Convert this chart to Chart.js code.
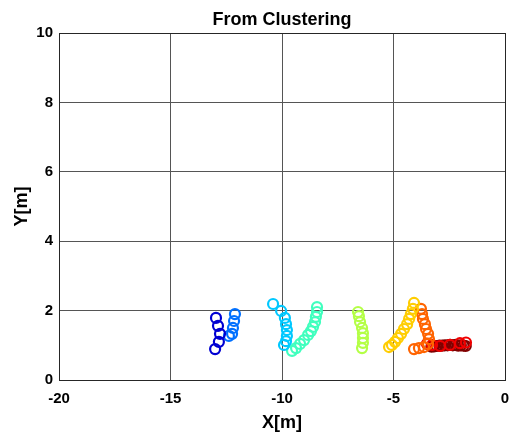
<!DOCTYPE html>
<html>
<head>
<meta charset="utf-8">
<script src="https://cdn.jsdelivr.net/npm/chart.js@4"></script>
<style>
  html, body { margin: 0; padding: 0; background: #ffffff; }
  canvas { display: block; }
</style>
</head>
<body>
<canvas id="chart" width="509" height="436"></canvas>
<script>
// Cluster tracks (X, Y in metres), one pair of arrays per cluster
const cluster1X = [-12.96, -12.87, -12.78, -12.83, -13.00];
const cluster1Y = [1.79, 1.56, 1.33, 1.10, 0.89];

const cluster2X = [-12.11, -12.15, -12.20, -12.24, -12.38];
const cluster2Y = [1.90, 1.70, 1.50, 1.33, 1.27];

const cluster3X = [-10.40, -10.04, -9.87, -9.82, -9.78, -9.78, -9.82, -9.91];
const cluster3Y = [2.19, 1.99, 1.79, 1.61, 1.44, 1.27, 1.12, 1.01];

const cluster4X = [-8.43, -8.43, -8.48, -8.52, -8.61, -8.70, -8.83, -9.01, -9.19, -9.37, -9.55];
const cluster4Y = [2.10, 1.96, 1.82, 1.67, 1.53, 1.41, 1.30, 1.15, 1.04, 0.92, 0.84];

const cluster5X = [-6.59, -6.55, -6.50, -6.41, -6.37, -6.37, -6.37, -6.41];
const cluster5Y = [1.96, 1.84, 1.67, 1.50, 1.35, 1.21, 1.07, 0.92];

const cluster6X = [-4.08, -4.13, -4.22, -4.30, -4.39, -4.53, -4.66, -4.80, -4.93, -5.07, -5.20];
const cluster6Y = [2.22, 2.05, 1.90, 1.76, 1.61, 1.47, 1.33, 1.21, 1.10, 1.01, 0.95];

const cluster7X = [-3.77, -3.72, -3.68, -3.59, -3.54, -3.45, -3.41, -3.45, -3.63, -3.86, -4.08];
const cluster7Y = [2.05, 1.90, 1.76, 1.61, 1.47, 1.33, 1.18, 1.04, 0.95, 0.92, 0.89];

const cluster8X = [-3.50, -3.27, -2.91, -2.47, -2.02, -1.75];
const cluster8Y = [1.04, 1.01, 0.98, 1.01, 1.06, 1.08];

const cluster9X = [-3.30, -3.18, -3.06, -2.94, -2.82, -2.70, -2.58, -2.46, -2.34, -2.22, -2.10, -1.98, -1.86, -1.76];
const cluster9Y = [0.96, 0.97, 0.98, 0.99, 0.99, 1.00, 1.00, 1.01, 1.00, 1.01, 0.99, 1.00, 0.99, 0.98];

const clusterColors = [
  'rgb(0,0,210)', 'rgb(0,112,255)', 'rgb(0,200,255)', 'rgb(64,255,190)',
  'rgb(180,255,70)', 'rgb(255,205,0)', 'rgb(255,100,0)', 'rgb(240,0,0)', 'rgb(128,0,0)'
];

const xTicks = [-20, -15, -10, -5, 0];
const yTicks = [0, 2, 4, 6, 8, 10];

const clusters = [
  [cluster1X, cluster1Y], [cluster2X, cluster2Y], [cluster3X, cluster3Y],
  [cluster4X, cluster4Y], [cluster5X, cluster5Y], [cluster6X, cluster6Y],
  [cluster7X, cluster7Y], [cluster8X, cluster8Y], [cluster9X, cluster9Y]
];

const datasets = clusters.map(([xs, ys], i) => ({
  data: xs.map((x, k) => ({ x: x, y: ys[k] })),
  borderColor: clusterColors[i],
  backgroundColor: 'rgba(0,0,0,0)',
  pointRadius: 5,
  pointHoverRadius: 5,
  pointBorderWidth: 2.2,
  showLine: false
}));

const FONT = "'Liberation Sans', Arial, sans-serif";
const gridColor = (ctx) => (ctx.index === 0 || ctx.index === ctx.chart.scales[ctx.scale.id].ticks.length - 1) ? '#262626' : '#555555';

new Chart(document.getElementById('chart'), {
  type: 'scatter',
  data: { datasets },
  options: {
    responsive: false,
    devicePixelRatio: 1,
    animation: false,
    layout: { padding: 0, autoPadding: false },
    plugins: {
      legend: { display: false },
      tooltip: { enabled: false },
      title: {
        display: true,
        text: 'From Clustering',
        fullSize: false,
        color: '#000000',
        font: { family: FONT, size: 18, weight: 'bold' },
        padding: { top: 9.2, bottom: 2.2 }
      }
    },
    scales: {
      x: {
        type: 'linear',
        min: -20, max: 0,
        afterBuildTicks: (s) => { s.ticks = xTicks.map(v => ({ value: v })); },
        afterFit: (s) => { s.height = 56; s.paddingRight = 4; s.paddingLeft = 0; },
        ticks: {
          color: '#000000',
          font: { family: FONT, size: 15, weight: 'bold' },
          padding: 10,
          maxRotation: 0
        },
        grid: { color: gridColor, lineWidth: 1, drawTicks: false },
        border: { color: '#262626', width: 1 },
        title: {
          display: true,
          text: 'X[m]',
          color: '#000000',
          font: { family: FONT, size: 18, weight: 'bold' },
          padding: { top: 0, bottom: 2.2 }
        }
      },
      y: {
        type: 'linear',
        min: 0, max: 10,
        afterBuildTicks: (s) => { s.ticks = yTicks.map(v => ({ value: v })); },
        afterFit: (s) => { s.width = 59; s.paddingTop = 0; s.paddingBottom = 0; },
        ticks: {
          color: '#000000',
          font: { family: FONT, size: 15, weight: 'bold' },
          padding: 6
        },
        grid: { color: gridColor, lineWidth: 1, drawTicks: false },
        border: { color: '#262626', width: 1 },
        title: {
          display: true,
          text: 'Y[m]',
          color: '#000000',
          font: { family: FONT, size: 18, weight: 'bold' },
          padding: { top: 11.2, bottom: 0 }
        }
      }
    }
  }
});
</script>
</body>
</html>
